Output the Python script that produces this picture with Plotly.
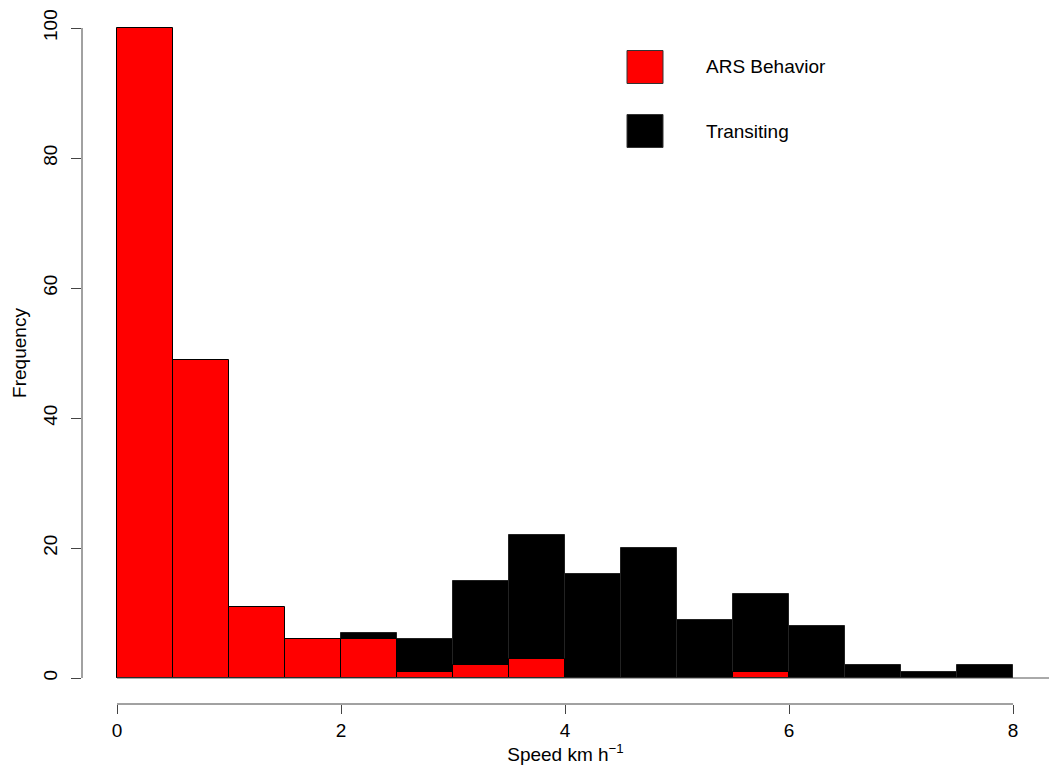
import plotly.graph_objects as go

# Histogram bins (km/h), width 0.5
bin_edges = [0.0, 0.5, 1.0, 1.5, 2.0, 2.5, 3.0, 3.5, 4.0, 4.5, 5.0, 5.5, 6.0, 6.5, 7.0, 7.5, 8.0]
ars_counts = [100, 49, 11, 6, 6, 1, 2, 3, 0, 0, 0, 1, 0, 0, 0, 0]
transit_counts = [0, 0, 0, 0, 7, 6, 15, 22, 16, 20, 9, 13, 8, 2, 1, 2]
x_ticks = [0, 2, 4, 6, 8]
y_ticks = [0, 20, 40, 60, 80, 100]
legend_labels = ["ARS Behavior", "Transiting"]
legend_colors = ["#FF0000", "#000000"]

centers = [(a + b) / 2 for a, b in zip(bin_edges[:-1], bin_edges[1:])]
widths = [b - a for a, b in zip(bin_edges[:-1], bin_edges[1:])]

FONT = "Liberation Sans, Arial, sans-serif"
FS = 19
fig = go.Figure()
fig.add_trace(go.Bar(x=centers, y=transit_counts, width=widths, marker=dict(color="#000000", line=dict(color="#222222", width=1)), name="Transiting", showlegend=False))
fig.add_trace(go.Bar(x=centers, y=ars_counts, width=widths, marker=dict(color="#FF0000", line=dict(color="#000000", width=1)), name="ARS Behavior", showlegend=False))

# axis lines (R style, spanning tick range only)
fig.add_shape(type="line", xref="x", yref="paper", x0=x_ticks[0], x1=x_ticks[-1], y0=0, y1=0, line=dict(color="#444444", width=1))
fig.add_shape(type="line", xref="paper", yref="y", x0=0, x1=0, y0=y_ticks[0], y1=y_ticks[-1], line=dict(color="#444444", width=1))
# baseline at 0
fig.add_shape(type="line", xref="x", yref="y", x0=0, x1=8.321, y0=0, y1=0, line=dict(color="#555555", width=1))

# legend (manual, R style)
leg_y = [67, 131]  # pixel centers
for lab, col, py in zip(legend_labels, legend_colors, leg_y):
    # plot area top=2, height=702 ; left=82, width=967
    y_c = 1 - (py - 2) / 702
    fig.add_shape(type="rect", xref="paper", yref="paper",
                  x0=(627 - 82) / 967, x1=(663 - 82) / 967,
                  y0=y_c - 16.5 / 702, y1=y_c + 16.5 / 702,
                  fillcolor=col, line=dict(color="#333333", width=1))
    fig.add_annotation(xref="paper", yref="paper", x=(704 - 82) / 967, y=y_c, text=lab,
                       showarrow=False, xanchor="left", yanchor="middle",
                       font=dict(family=FONT, size=FS, color="#000000"))

fig.update_layout(
    width=1055, height=770,
    margin=dict(l=82, r=6, t=2, b=66, autoexpand=False),
    barmode="overlay", bargap=0,
    plot_bgcolor="white", paper_bgcolor="white",
    font=dict(family=FONT, size=FS, color="#000000"),
    xaxis=dict(range=[-0.3125, 8.321], tickvals=x_ticks, ticks="outside", ticklen=9, tickcolor="#444444",
               showgrid=False, zeroline=False, showline=False, automargin=False,
               title=dict(text="Speed km h<sup>\u22121</sup>", standoff=6, font=dict(size=FS))),
    yaxis=dict(range=[-4, 104], tickvals=y_ticks, ticks="outside", ticklen=10, tickcolor="#444444",
               tickangle=-90, showgrid=False, zeroline=False, showline=False, ticklabelstandoff=6,
               automargin=False,
               title=dict(text="Frequency", standoff=8, font=dict(size=FS))),
)

fig.write_html("out.html", config={"displayModeBar": False},
               post_script="document.body.style.margin='0';document.body.style.overflow='hidden';")
